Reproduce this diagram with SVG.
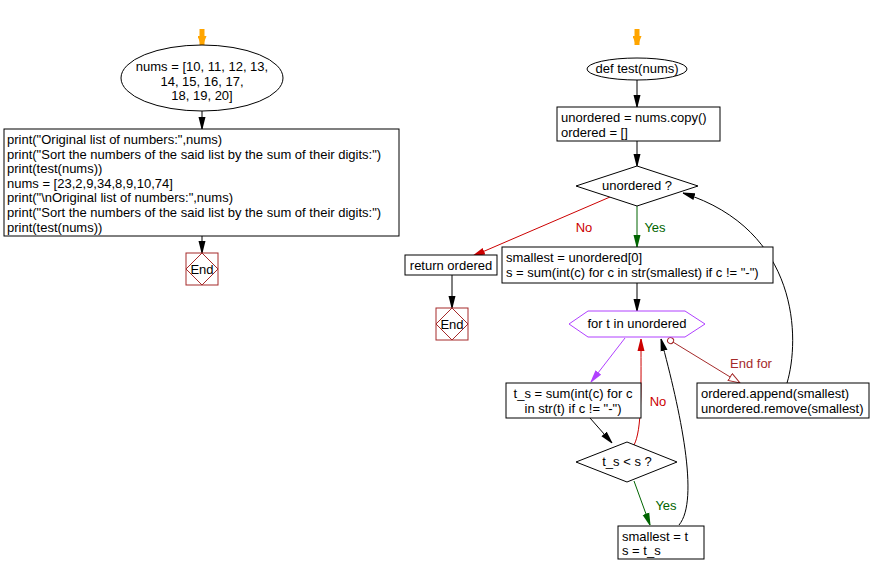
<svg xmlns="http://www.w3.org/2000/svg" width="871" height="574" viewBox="0 0 871 574">
<defs>
<style>
text{font-family:"Liberation Sans",Arial,sans-serif;font-size:13px;fill:#000}
.box{fill:#fff;stroke:#000;stroke-width:1}
.e{fill:none;stroke:#000;stroke-width:1}
.red{stroke:#cc0000}
.grn{stroke:#006400}
.pur{stroke:#b040ff}
.brn{stroke:#a52a2a}
.org{stroke:#ffa500;stroke-width:5}
.endsq{fill:#fff;stroke:#a52a2a;stroke-width:1}
.mid{text-anchor:middle}
</style>
<marker id="ab" markerUnits="userSpaceOnUse" markerWidth="13" markerHeight="8" refX="12" refY="4" orient="auto"><path d="M0,0.5 L12,3.5 L12,4.5 L0,7.5 z" fill="#000"/></marker>
<marker id="ar" markerUnits="userSpaceOnUse" markerWidth="13" markerHeight="8" refX="12" refY="4" orient="auto"><path d="M0,0.5 L12,3.5 L12,4.5 L0,7.5 z" fill="#cc0000"/></marker>
<marker id="ag" markerUnits="userSpaceOnUse" markerWidth="13" markerHeight="8" refX="12" refY="4" orient="auto"><path d="M0,0.5 L12,3.5 L12,4.5 L0,7.5 z" fill="#006400"/></marker>
<marker id="ap" markerUnits="userSpaceOnUse" markerWidth="13" markerHeight="8" refX="12" refY="4" orient="auto"><path d="M0,0.5 L12,3.5 L12,4.5 L0,7.5 z" fill="#b040ff"/></marker>
<marker id="ao" markerUnits="userSpaceOnUse" markerWidth="10" markerHeight="9" refX="9" refY="4.5" orient="auto"><path d="M0,0 L9,3.5 L9,5.5 L0,9 z" fill="#ffa500"/></marker>
<marker id="aw" markerUnits="userSpaceOnUse" markerWidth="13" markerHeight="9" refX="12" refY="4.5" orient="auto"><path d="M0.5,0.5 L12,4.5 L0.5,8.5 z" fill="#fff" stroke="#a52a2a"/></marker>
<marker id="cs" markerUnits="userSpaceOnUse" markerWidth="8" markerHeight="8" refX="1" refY="4" orient="auto"><circle cx="4" cy="4" r="3" fill="#fff" stroke="#a52a2a"/></marker>
</defs>

<g id="connectors">
<line class="e org" x1="202" y1="29" x2="202" y2="45" marker-end="url(#ao)"/>
<line class="e" x1="202" y1="111" x2="202" y2="129" marker-end="url(#ab)"/>
<line class="e" x1="202" y1="236" x2="202" y2="253" marker-end="url(#ab)"/>
<line class="e org" x1="637" y1="29" x2="637" y2="45" marker-end="url(#ao)"/>
<line class="e" x1="637" y1="80" x2="637" y2="107" marker-end="url(#ab)"/>
<line class="e" x1="637" y1="141" x2="637" y2="166" marker-end="url(#ab)"/>
<path class="e red" d="M610,197 L473,256" marker-end="url(#ar)"/>
<line class="e grn" x1="637" y1="206" x2="637" y2="247" marker-end="url(#ag)"/>
<line class="e" x1="452" y1="275" x2="452" y2="308" marker-end="url(#ab)"/>
<line class="e" x1="637" y1="283" x2="637" y2="311" marker-end="url(#ab)"/>
<path class="e pur" d="M625,338 L591,382" marker-end="url(#ap)"/>
<path class="e" d="M590,418 L612,443" marker-end="url(#ab)"/>
<path class="e red" d="M634,445 C642,430 641,390 641,339" marker-end="url(#ar)"/>
<path class="e grn" d="M634,481 L650,525" marker-end="url(#ag)"/>
<path class="e" d="M679,525 C700,500 680,410 661,339" marker-end="url(#ab)"/>
<path class="e brn" d="M668,339 L740,383" marker-start="url(#cs)" marker-end="url(#aw)"/>
<path class="e" d="M787,383 C800,340 800,230 683,193" marker-end="url(#ab)"/>
<text x="584" y="232" class="mid" style="fill:#cc0000">No</text>
<text x="655" y="232" class="mid" style="fill:#006400">Yes</text>
<text x="658" y="406" class="mid" style="fill:#cc0000">No</text>
<text x="666" y="510" class="mid" style="fill:#006400">Yes</text>
<text x="751" y="368" class="mid" style="fill:#a52a2a">End for</text>
</g>

<g id="start1">
<ellipse class="box" cx="202" cy="78" rx="81" ry="33"/>
<text x="202" y="71" class="mid">nums = [10, 11, 12, 13,</text>
<text x="202" y="86" class="mid">14, 15, 16, 17,</text>
<text x="202" y="100" class="mid">18, 19, 20]</text>
</g>

<g id="main">
<rect class="box" x="4" y="129" width="395" height="107"/>
<text x="7" y="144">print("Original list of numbers:",nums)</text>
<text x="7" y="159">print("Sort the numbers of the said list by the sum of their digits:")</text>
<text x="7" y="173">print(test(nums))</text>
<text x="7" y="188">nums = [23,2,9,34,8,9,10,74]</text>
<text x="7" y="202">print("\nOriginal list of numbers:",nums)</text>
<text x="7" y="217">print("Sort the numbers of the said list by the sum of their digits:")</text>
<text x="7" y="232">print(test(nums))</text>
</g>

<g id="end1">
<rect class="endsq" x="186" y="253" width="32" height="32"/>
<path class="e brn" d="M202,253 L218,269 L202,285 L186,269 z"/>
<text x="202" y="274" class="mid">End</text>
</g>

<g id="def">
<ellipse class="box" cx="637" cy="69" rx="50" ry="11"/>
<text x="637" y="73" class="mid">def test(nums)</text>
</g>

<g id="init">
<rect class="box" x="557" y="107" width="163" height="34"/>
<text x="561" y="122">unordered = nums.copy()</text>
<text x="561" y="137">ordered = []</text>
</g>

<g id="cond1">
<path class="box" d="M637,166 L698,186 L637,206 L576,186 z"/>
<text x="637" y="190" class="mid">unordered ?</text>
</g>

<g id="ret">
<rect class="box" x="405" y="255" width="92" height="20"/>
<text x="451" y="270" class="mid">return ordered</text>
</g>

<g id="end2">
<rect class="endsq" x="436" y="308" width="32" height="32"/>
<path class="e brn" d="M452,308 L468,324 L452,340 L436,324 z"/>
<text x="452" y="329" class="mid">End</text>
</g>

<g id="smallest0">
<rect class="box" x="502" y="247" width="271" height="36"/>
<text x="506" y="262">smallest = unordered[0]</text>
<text x="506" y="277">s = sum(int(c) for c in str(smallest) if c != "-")</text>
</g>

<g id="loop">
<path class="box pur" d="M588,311 L685,311 L705,324 L685,337 L588,337 L569,324 z"/>
<text x="637" y="328" class="mid">for t in unordered</text>
</g>

<g id="ts">
<rect class="box" x="506" y="383" width="135" height="35"/>
<text x="573" y="398" class="mid">t_s = sum(int(c) for c</text>
<text x="573" y="413" class="mid">in str(t) if c != "-")</text>
</g>

<g id="cond2">
<path class="box" d="M627,442 L677,462 L627,482 L576,462 z"/>
<text x="627" y="466" class="mid">t_s &lt; s ?</text>
</g>

<g id="upd">
<rect class="box" x="618" y="526" width="86" height="33"/>
<text x="622" y="541">smallest = t</text>
<text x="622" y="555">s = t_s</text>
</g>

<g id="append">
<rect class="box" x="697" y="383" width="172" height="35"/>
<text x="701" y="398">ordered.append(smallest)</text>
<text x="701" y="413">unordered.remove(smallest)</text>
</g>
</svg>
